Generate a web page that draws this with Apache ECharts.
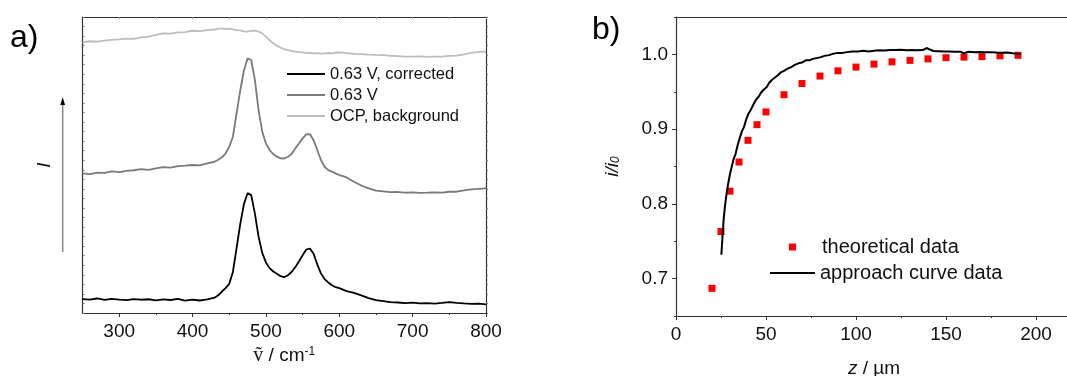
<!DOCTYPE html>
<html>
<head>
<meta charset="utf-8">
<script src="https://cdn.jsdelivr.net/npm/echarts@6/dist/echarts.min.js"></script>
<style>
html,body{margin:0;padding:0;background:#fff;}
#chart{width:1067px;height:376px;}
</style>
</head>
<body>
<div id="chart"></div>
<script>
// ---- Panel a) Raman spectra (wavenumber / cm-1, intensity a.u.) ----
const wavenumber = [250,260,270,280,290,300,310,320,330,340,350,360,370,380,390,400,410,420,430,
  435,440,445,450,455,460,465,470,475,480,485,490,495,500,505,510,515,520,525,530,535,540,545,550,555,560,565,570,575,580,585,590,595,600,605,610,
  620,630,640,650,660,670,680,690,700,710,720,730,740,750,760,770,780,790,800];
const corrected063 = [14.6,14.0,15.2,13.8,14.9,14.1,13.5,14.6,13.9,14.4,13.2,14.3,13.6,14.8,12.9,13.9,13.1,14.2,16.0,
  18.5,22.5,26.0,30.5,43,68,93,114,125.5,123.5,104,80,63,53,47,43.5,41,38.5,37.5,39.5,43,48,54,60.5,66.5,67.5,62,51,41.5,35.5,32,29,27,26,24.5,23,
  21,18.5,15.5,13.5,12.4,11.3,11.0,10.4,10.8,10.0,10.3,9.8,10.5,11.5,10.6,10.0,9.6,9.8,9.1];
const raw063 = [146.2,145.5,147.0,146.8,148.3,147.6,148.9,149.5,150.6,150.0,151.5,152.8,152.2,153.9,154.3,155.0,154.6,156.8,158.4,
  160.5,163,167,174,184.6,209,233,254,266.6,265,244,212.5,190,177.6,170.7,166.5,163.7,162,161.8,163.7,166.5,172.4,177.6,182.9,187,187.4,181,170.7,160.2,153.2,149.7,148,146.2,144.5,143.3,142,
  137.5,133.5,130.5,128.1,127.3,126.5,126.7,126.0,126.4,125.8,126.0,126.3,126.0,127.0,127.0,128.5,129.5,130.0,130.5];
const ocpBackground = [283.4,284.6,284.1,285.3,286.0,286.5,287.4,287.0,288.6,289.5,291.2,292.8,292.5,293.8,294.2,295.6,295.2,296.3,296.9,
  297.6,298.0,297.4,297.8,297.0,296.3,296.0,295.0,294.6,295.6,295.8,294.8,292.8,289.5,285.8,282.5,279.9,277.8,276.4,275.3,274.6,273.8,273.2,272.9,272.5,272.3,271.9,272.1,271.6,271.9,272.3,272.0,272.8,273.0,272.6,272.2,
  271.4,271.2,270.6,270.3,270.1,269.4,269.0,268.6,268.4,268.7,268.2,268.5,268.4,269.2,269.5,270.8,272.5,273.4,273.6];
const aXTicks = [300,400,500,600,700,800];
const aXMinor = [350,450,550,650,750];

// ---- Panel b) approach curve ----
const theoZ = [20,25,30,35,40,45,50,60,70,80,90,100,110,120,130,140,150,160,170,180,190];
const theoI = [0.687,0.763,0.817,0.856,0.885,0.906,0.923,0.946,0.961,0.971,0.978,0.983,0.987,0.990,0.992,0.994,0.9956,0.9964,0.997,0.998,0.9987];
const apprZ = [25.2,25.8,26.5,27.2,28.0,28.9,30.0,31.0,32.0,33.1,34.2,35.4,36.6,37.8,39.0,40.3,41.6,43.0,44.4,45.8,47.3,48.8,50.3,51.8,53.4,55.0,56.6,58.3,60.0,62,64,66,68,70,72,74,76,78,80,82.5,85,87.5,90,92.5,95,98,101,104,107,110,113,116,119,122,125,128,131,134,137,139.5,141,143,146,149,152,155,158,160,161.5,163,166,169,172,175,178,181,184,187,190,191.5];
const apprI = [0.732,0.755,0.780,0.797,0.812,0.826,0.840,0.850,0.860,0.867,0.878,0.888,0.897,0.903,0.913,0.921,0.926,0.933,0.939,0.943,0.949,0.953,0.956,0.962,0.966,0.969,0.972,0.976,0.978,0.981,0.983,0.986,0.988,0.989,0.992,0.992,0.994,0.995,0.996,0.998,0.999,1.001,1.002,1.002,1.003,1.004,1.004,1.005,1.004,1.005,1.0055,1.0052,1.006,1.0058,1.0062,1.0055,1.006,1.0054,1.0058,1.0085,1.0065,1.0045,1.0042,1.0038,1.004,1.0035,1.0036,1.0012,1.003,1.0034,1.003,1.0032,1.0028,1.003,1.0025,1.0022,1.0024,1.0015,1.001,1.0006];
const bXTicks = [0,50,100,150,200];
const bXMinor = [25,75,125,175];
const bYTicks = [0.7,0.8,0.9,1.0];
const bYMinor = [0.65,0.75,0.85,0.95,1.05];

const FONT = 'Liberation Sans, Arial, sans-serif';
const AXC = '#333';
const pairs = (xs, ys) => xs.map((x, i) => [x, ys[i]]);

const chart = echarts.init(document.getElementById('chart'), null, {renderer: 'canvas'});
const lineAxis = {show: true, lineStyle: {color: AXC, width: 1.2}};
chart.setOption({
  animation: false,
  backgroundColor: '#fff',
  textStyle: {fontFamily: FONT},
  grid: [
    {left: 82.5, top: 17, width: 403.5, height: 296, containLabel: false, outerBoundsMode: 'none'},
    {left: 676, top: 17, width: 396, height: 299, containLabel: false, outerBoundsMode: 'none'}
  ],
  xAxis: [
    {gridIndex: 0, type: 'value', min: 250, max: 800, position: 'bottom',
     axisLine: lineAxis, splitLine: {show: false},
     axisTick: {customValues: aXTicks, length: 4, lineStyle: {color: AXC}},
     axisLabel: {customValues: aXTicks, fontSize: 19, color: '#111', margin: 9, fontFamily: FONT},
     name: '{v|ṽ} / cm{sup|-1}', nameLocation: 'middle', nameGap: 33,
     nameTextStyle: {fontSize: 19, color: '#111', fontFamily: FONT,
       rich: {v: {fontSize: 20, fontFamily: 'Liberation Serif, DejaVu Serif, serif', color: '#111'},
              sup: {fontSize: 12, verticalAlign: 'top', color: '#111', padding: [0, 0, 8, 0]}}}},
    {gridIndex: 0, type: 'value', min: 250, max: 800, position: 'bottom',
     axisLine: {show: false}, splitLine: {show: false},
     axisTick: {customValues: aXMinor, length: 2, lineStyle: {color: AXC}},
     axisLabel: {show: false}},
    {gridIndex: 0, type: 'value', min: 250, max: 800, position: 'top',
     axisLine: lineAxis, splitLine: {show: false},
     axisTick: {customValues: aXTicks.concat(aXMinor), inside: true, length: 2, lineStyle: {color: '#999'}},
     axisLabel: {show: false}},
    {gridIndex: 1, type: 'value', min: 0, max: 220, position: 'bottom',
     axisLine: lineAxis, splitLine: {show: false},
     axisTick: {customValues: bXTicks, length: 4, lineStyle: {color: AXC}},
     axisLabel: {customValues: bXTicks, fontSize: 19, color: '#111', margin: 9, fontFamily: FONT},
     name: '{it|z} / µm', nameLocation: 'middle', nameGap: 43,
     nameTextStyle: {fontSize: 19, color: '#111', fontFamily: FONT,
       rich: {it: {fontSize: 19, fontStyle: 'italic', color: '#111', fontFamily: FONT}}}},
    {gridIndex: 1, type: 'value', min: 0, max: 220, position: 'bottom',
     axisLine: {show: false}, splitLine: {show: false},
     axisTick: {customValues: bXMinor, length: 2, lineStyle: {color: AXC}},
     axisLabel: {show: false}},
    {gridIndex: 1, type: 'value', min: 0, max: 220, position: 'top',
     axisLine: lineAxis, splitLine: {show: false}, axisTick: {show: false}, axisLabel: {show: false}}
  ],
  yAxis: [
    {gridIndex: 0, type: 'value', min: 0, max: 310, interval: 10, position: 'left',
     axisLine: lineAxis, splitLine: {show: false},
     axisTick: {inside: true, length: 2, lineStyle: {color: '#777'}},
     axisLabel: {show: false},
     name: 'I', nameLocation: 'middle', nameGap: 28,
     nameTextStyle: {fontSize: 19, fontStyle: 'italic', color: '#111', fontFamily: FONT}},
    {gridIndex: 0, type: 'value', min: 0, max: 310, interval: 10, position: 'right',
     axisLine: lineAxis, splitLine: {show: false},
     axisTick: {inside: false, length: 2, lineStyle: {color: '#777'}},
     axisLabel: {show: false}},
    {gridIndex: 1, type: 'value', min: 0.65, max: 1.05, position: 'left',
     axisLine: lineAxis, splitLine: {show: false},
     axisTick: {customValues: bYTicks, length: 4, lineStyle: {color: AXC}},
     axisLabel: {customValues: bYTicks, fontSize: 19, color: '#111', margin: 8, fontFamily: FONT,
                 formatter: v => Number(v).toFixed(1)},
     name: '{it|i/i}{sub|0}', nameLocation: 'middle', nameGap: 54,
     nameTextStyle: {fontSize: 19, color: '#111', fontFamily: FONT,
       rich: {it: {fontSize: 19, fontStyle: 'italic', color: '#111', fontFamily: FONT},
              sub: {fontSize: 12, fontStyle: 'italic', verticalAlign: 'bottom', color: '#111', padding: [6, 0, 0, 0]}}}},
    {gridIndex: 1, type: 'value', min: 0.65, max: 1.05, position: 'left',
     axisLine: {show: false}, splitLine: {show: false},
     axisTick: {customValues: bYMinor, length: 2, lineStyle: {color: AXC}},
     axisLabel: {show: false}}
  ],
  legend: [
    {data: [{name: '0.63 V, corrected', icon: 'rect'}, {name: '0.63 V', icon: 'rect'}, {name: 'OCP, background', icon: 'rect'}],
     orient: 'vertical', left: 287, top: 65.5, padding: 0, itemGap: 4, itemWidth: 38, itemHeight: 2,
     selectedMode: false, textStyle: {fontSize: 16.5, lineHeight: 17, color: '#111', fontFamily: FONT}},
    {data: [{name: 'theoretical data', icon: 'rect'}], left: 789, top: 237, padding: 0,
     itemWidth: 7, itemHeight: 7, selectedMode: false,
     textStyle: {fontSize: 20, lineHeight: 20, color: '#111', fontFamily: FONT, padding: [0, 0, 0, 21]}},
    {data: [{name: 'approach curve data', icon: 'rect'}], left: 770, top: 263, padding: 0,
     itemWidth: 45, itemHeight: 2, selectedMode: false,
     textStyle: {fontSize: 20, lineHeight: 20, color: '#111', fontFamily: FONT}}
  ],
  series: [
    {name: 'OCP, background', type: 'line', xAxisIndex: 0, yAxisIndex: 0, data: pairs(wavenumber, ocpBackground),
     symbol: 'none', lineStyle: {color: '#bdbdbd', width: 1.8}, itemStyle: {color: '#bdbdbd'}},
    {name: '0.63 V', type: 'line', xAxisIndex: 0, yAxisIndex: 0, data: pairs(wavenumber, raw063),
     symbol: 'none', lineStyle: {color: '#7a7a7a', width: 1.8}, itemStyle: {color: '#7a7a7a'}},
    {name: '0.63 V, corrected', type: 'line', xAxisIndex: 0, yAxisIndex: 0, data: pairs(wavenumber, corrected063),
     symbol: 'none', lineStyle: {color: '#000', width: 1.8}, itemStyle: {color: '#000'}},
    {name: 'theoretical data', type: 'scatter', xAxisIndex: 3, yAxisIndex: 2, data: pairs(theoZ, theoI),
     symbol: 'rect', symbolSize: 7, itemStyle: {color: '#ff0000', opacity: 1}},
    {name: 'approach curve data', type: 'line', xAxisIndex: 3, yAxisIndex: 2, data: pairs(apprZ, apprI),
     symbol: 'none', lineStyle: {color: '#000', width: 2}, itemStyle: {color: '#000'}}
  ],
  graphic: [
    {type: 'text', left: 10, top: 22, style: {text: 'a)', fontSize: 32, fill: '#000', fontFamily: FONT}},
    {type: 'text', left: 592, top: 14, style: {text: 'b)', fontSize: 32, fill: '#000', fontFamily: FONT}},
    {type: 'line', shape: {x1: 62.7, y1: 252, x2: 62.7, y2: 104}, style: {stroke: '#888', lineWidth: 1.5}},
    {type: 'polygon', shape: {points: [[62.7, 97], [60.4, 105], [65, 105]]}, style: {fill: '#000'}}
  ]
});
</script>
</body>
</html>
